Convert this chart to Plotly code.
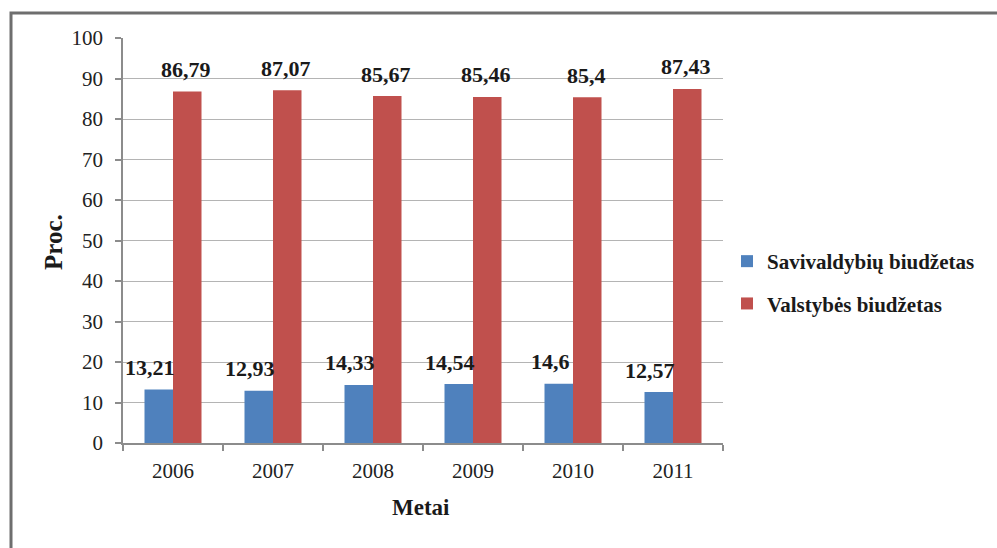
import plotly.graph_objects as go

years = ["2006", "2007", "2008", "2009", "2010", "2011"]
savivaldybiu = [13.21, 12.93, 14.33, 14.54, 14.6, 12.57]
valstybes = [86.79, 87.07, 85.67, 85.46, 85.4, 87.43]
series_names = ["Savivaldybių biudžetas", "Valstybės biudžetas"]
y_ticks = list(range(0, 101, 10))

BLUE = "#4F81BD"
RED = "#C0504D"
FONT = "Liberation Serif"

W, H = 997, 548
L, R, T, B = 123, 274, 38, 105
PW, PH = W - L - R, H - T - B


def px_x(px):
    return (px - L) / PW


def px_y(py):
    return (H - B - py) / PH


def fmt(v):
    return str(v).replace(".", ",")


fig = go.Figure()
fig.add_trace(go.Bar(x=years, y=savivaldybiu, name=series_names[0],
                     marker=dict(color=BLUE, line=dict(width=0)),
                     legendgroup="a"))
fig.add_trace(go.Bar(x=years, y=valstybes, name=series_names[1],
                     marker=dict(color=RED, line=dict(width=0)),
                     legendgroup="b"))

annotations = []
for i, v in enumerate(savivaldybiu):
    annotations.append(dict(x=i, y=v, xref="x", yref="y",
                            text="<b>" + fmt(v) + "</b>",
                            showarrow=False, xshift=-23, yshift=22,
                            xanchor="center", yanchor="middle",
                            font=dict(family=FONT, size=22, color="#1a1a1a")))
for i, v in enumerate(valstybes):
    annotations.append(dict(x=i, y=v, xref="x", yref="y",
                            text="<b>" + fmt(v) + "</b>",
                            showarrow=False, xshift=13, yshift=22,
                            xanchor="center", yanchor="middle",
                            font=dict(family=FONT, size=22, color="#1a1a1a")))

annotations.append(dict(x=px_x(421), y=px_y(507), xref="paper", yref="paper",
                        text="<b>Metai</b>", showarrow=False,
                        xanchor="center", yanchor="middle",
                        font=dict(family=FONT, size=23, color="#1a1a1a")))
annotations.append(dict(x=px_x(53), y=px_y(242), xref="paper", yref="paper",
                        text="<b>Proc.</b>", showarrow=False, textangle=-90,
                        xanchor="center", yanchor="middle",
                        font=dict(family=FONT, size=25, color="#1a1a1a")))

border = dict(type="path", xref="paper", yref="paper",
              path=f"M {px_x(11)} {px_y(560)} L {px_x(11)} {px_y(13)} L {px_x(1010)} {px_y(13)}",
              line=dict(color="#6e6e6e", width=3), layer="above")

fig.update_layout(
    width=W, height=H,
    margin=dict(l=L, r=R, t=T, b=B, pad=0),
    paper_bgcolor="white", plot_bgcolor="white",
    barmode="group", bargap=0.43, bargroupgap=0,
    font=dict(family=FONT, size=20, color="#222222"),
    showlegend=True,
    legend=dict(x=px_x(727), y=px_y(241), xanchor="left", yanchor="top",
                font=dict(family=FONT, size=21, color="#1a1a1a", weight="bold"),
                traceorder="grouped", tracegroupgap=12,
                bgcolor="rgba(0,0,0,0)", itemclick=False),
    annotations=annotations,
    shapes=[border],
    xaxis=dict(type="category", range=[-0.5, len(years) - 0.5],
               showgrid=False, showline=True,
               linecolor="#8c8c8c", linewidth=1.5,
               ticks="outside", tickson="boundaries", ticklen=6,
               tickcolor="#8c8c8c", tickwidth=1.5,
               tickfont=dict(family=FONT, size=21, color="#222222"),
               ticklabelstandoff=8),
    yaxis=dict(range=[0, 100], tickvals=y_ticks, showgrid=True,
               gridcolor="#b4b4b4", gridwidth=1.2, zeroline=False,
               showline=True, linecolor="#8c8c8c", linewidth=1.5,
               ticks="outside", ticklen=6, tickcolor="#8c8c8c", tickwidth=1.5,
               tickfont=dict(family=FONT, size=21, color="#222222"),
               ticklabelstandoff=8),
)

fig.write_html("out.html")
